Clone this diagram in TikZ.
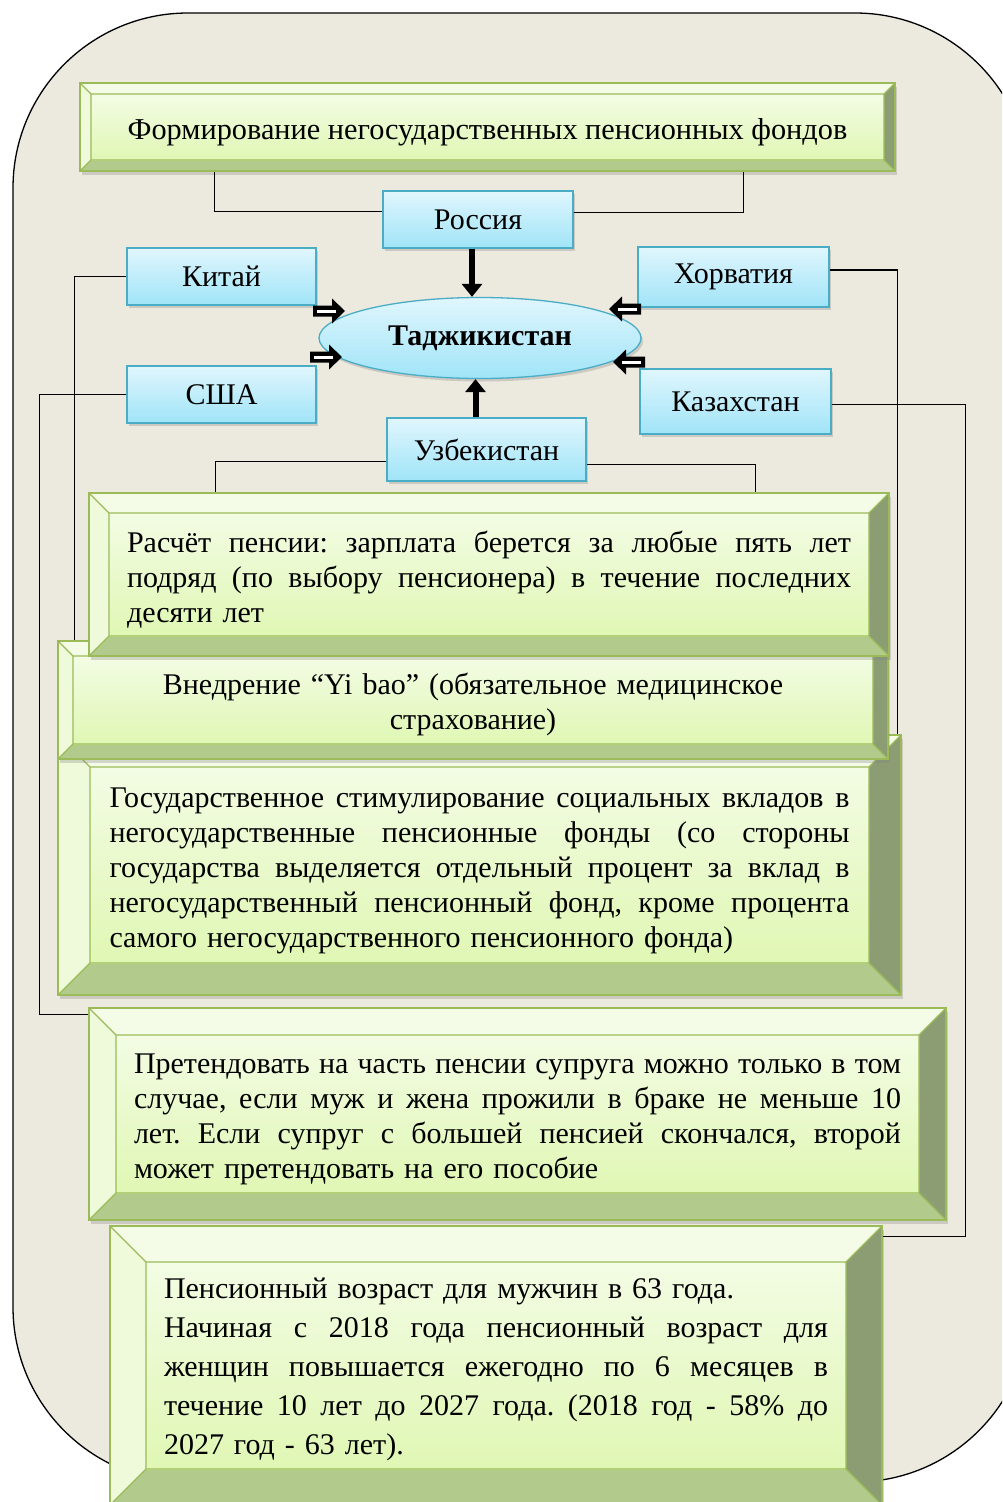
\documentclass[tikz,border=0pt]{standalone}
\usepackage{fontspec}
\setmainfont{Liberation Serif}
\usetikzlibrary{calc,shadows,arrows.meta,shapes.geometric}
\definecolor{bg}{RGB}{236,233,223}
\definecolor{grn}{RGB}{155,187,89}
\definecolor{facetop}{RGB}{243,252,228}
\definecolor{facebot}{RGB}{224,247,180}
\definecolor{bevtop}{RGB}{244,252,232}
\definecolor{bevleft}{RGB}{238,250,218}
\definecolor{bevright}{RGB}{140,157,116}
\definecolor{bevbot}{RGB}{178,203,140}
\definecolor{bbord}{RGB}{75,172,198}
\definecolor{btop}{RGB}{224,246,253}
\definecolor{bbot}{RGB}{160,228,248}
\newcommand{\jl}[2]{\makebox[#1pt][s]{\spaceskip=0pt\xspaceskip=0pt\relax #2}}
\newcommand{\topstrut}{\rule{0pt}{31pt}}
\frenchspacing
\begin{document}
\begin{tikzpicture}[x=1pt,y=-1pt,
  txt/.style={font=\fontsize{30}{35}\selectfont},
  bevel/.style={draw=grn, line width=1.2pt, inner sep=0pt, fill=bevbot,
    drop shadow={opacity=0.3, shadow xshift=2pt, shadow yshift=-4pt},
    txt,
    path picture={
      \coordinate (PNW) at (path picture bounding box.north west);
      \coordinate (PNE) at (path picture bounding box.north east);
      \coordinate (PSW) at (path picture bounding box.south west);
      \coordinate (PSE) at (path picture bounding box.south east);
      \coordinate (pnw) at ($(PNW)+(#1,#1)$);
      \coordinate (pne) at ($(PNE)+(-#1,#1)$);
      \coordinate (psw) at ($(PSW)+(#1,-#1)$);
      \coordinate (pse) at ($(PSE)+(-#1,-#1)$);
      \fill[bevtop] (PNW)--(PNE)--(pne)--(pnw)--cycle;
      \fill[bevleft] (PNW)--(pnw)--(psw)--(PSW)--cycle;
      \fill[bevright] (PNE)--(PSE)--(pse)--(pne)--cycle;
      \fill[bevbot] (PSW)--(psw)--(pse)--(PSE)--cycle;
      \shade[top color=facetop, bottom color=facebot] (pnw) rectangle (pse);
      \draw[grn, line width=1.2pt] (pnw) rectangle (pse) (PNW)--(pnw) (PNE)--(pne) (PSW)--(psw) (PSE)--(pse);
    }},
  bluebox/.style={draw=bbord, line width=1.3pt, top color=btop, bottom color=bbot, inner sep=0pt,
    drop shadow={opacity=0.3, shadow xshift=2pt, shadow yshift=-3pt}, txt},
  conn/.style={draw=black, line width=1.4pt},
  thick arrow/.style={draw=black, line width=6pt, -{Triangle[length=13pt,width=20pt]}},
  blkarrow/.pic={
    \fill[black] (-32,-5.5)--(-13,-5.5)--(-13,-12.5)--(0,0)--(-13,12.5)--(-13,5.5)--(-32,5.5)--cycle;
    \draw[white, line width=3pt] (-28,0)--(-9,0);
  }
]
\path[use as bounding box, clip] (0,0) rectangle (1002,1502);
\fill[white] (0,0) rectangle (1002,1502);
\draw[fill=bg, line width=1.3pt, rounded corners=175pt] (13,13) rectangle (1030,1482);

% title
\node[bevel=11, minimum width=815pt, minimum height=88pt, font=\fontsize{30.3}{35}\selectfont,
  text height=31pt, text depth=6.5pt] (title) at (487.5,127)
  {Формирование негосударственных пенсионных фондов};

% countries
\node[bluebox, minimum width=190pt, minimum height=57pt] (rus) at (478,219.5) {Россия};
\node[bluebox, minimum width=189pt, minimum height=57pt] (kit) at (221.5,276.5) {Китай};
\node[bluebox, minimum width=191pt, minimum height=60pt] (hor) at (733.5,277) {Хорватия};
\node[bluebox, minimum width=189pt, minimum height=57pt] (usa) at (221.5,394.5) {США};
\node[bluebox, minimum width=191pt, minimum height=65pt] (kaz) at (735.5,401.5) {Казахстан};
\node[bluebox, minimum width=199pt, minimum height=63pt] (uzb) at (486.5,449.5) {Узбекистан};
\node[bluebox, ellipse, minimum width=322pt, minimum height=81pt, font=\fontsize{30}{35}\selectfont\bfseries] (tj) at (480,338) {Таджикистан};

\draw[thick arrow] ([xshift=-6pt]rus.south) -- ([xshift=-6pt]rus.south |- tj.north);
\draw[thick arrow] ([xshift=-11pt]uzb.north) -- ([xshift=-11pt]uzb.north |- tj.south);

\pic at (345,311) {blkarrow};
\pic at (342,357) {blkarrow};
\pic[rotate=180] at (609,309) {blkarrow};
\pic[rotate=180] at (613,362) {blkarrow};

% green boxes
\node[bevel=32, minimum width=843pt, minimum height=260pt, text width=740pt, align=left] (gos) at (479.5,865)
  {\topstrut\jl{740}{Государственное стимулирование социальных вкладов в}\\
   \jl{740}{негосударственные пенсионные фонды (со стороны}\\
   \jl{740}{государства выделяется отдельный процент за вклад в}\\
   \jl{740}{негосударственный пенсионный фонд, кроме процента}\\
   самого негосударственного пенсионного фонда)};
\node[bevel=15, minimum width=830pt, minimum height=118pt, text width=780pt, align=center] (vnedr) at (473,700)
  {\topstrut Внедрение “Yi bao” (обязательное медицинское\\ страхование)};
\node[bevel=20, minimum width=800pt, minimum height=163pt, text width=724pt, align=left] (rasch) at (489,574.5)
  {\topstrut\jl{724}{Расчёт пенсии: зарплата берется за любые пять лет}\\
   \jl{724}{подряд (по выбору пенсионера) в течение последних}\\
   десяти лет};
\node[bevel=27, minimum width=857pt, minimum height=212pt, text width=767pt, align=left] (pret) at (517.5,1114)
  {\topstrut\jl{767}{Претендовать на часть пенсии супруга можно только в том}\\
   \jl{767}{случае, если муж и жена прожили в браке не меньше 10}\\
   \jl{767}{лет. Если супруг с большей пенсией скончался, второй}\\
   может претендовать на его пособие};
\node[bevel=36, minimum width=772pt, minimum height=279pt, text width=664pt, align=left,
  font=\fontsize{30}{39}\selectfont] (pens) at (496,1365.5)
  {\rule{0pt}{29pt}Пенсионный возраст для мужчин в 63 года.\\
   \jl{664}{Начиная с 2018 года пенсионный возраст для}\\
   \jl{664}{женщин повышается ежегодно по 6 месяцев в}\\
   \jl{664}{течение 10 лет до 2027 года. (2018 год - 58\% до}\\
   2027 год - 63 лет).};

% connectors
\draw[conn] ($(rus.west)+(0,-8)$) -| ($(title.south west)+(135,0)$);
\draw[conn] ($(rus.east)+(0,-7)$) -| ($(title.south west)+(664,0)$);
\draw[conn] (kit.west) -| ($(vnedr.north west)+(17,0)$);
\draw[conn] (usa.west) -- ++(-87,0) |- ($(pret.north west)+(0,7)$);
\draw[conn] ($(hor.east)+(0,-7)$) -| ($(gos.north east)+(-4,0)$);
\draw[conn] ($(kaz.east)+(0,3)$) -- ++(134,0) |- ($(pens.north east)+(0,11)$);
\draw[conn] ($(uzb.west)+(0,12)$) -| ($(rasch.north west)+(127,0)$);
\draw[conn] ($(uzb.east)+(0,15)$) -| ($(rasch.north west)+(667,0)$);
\end{tikzpicture}
\end{document}
